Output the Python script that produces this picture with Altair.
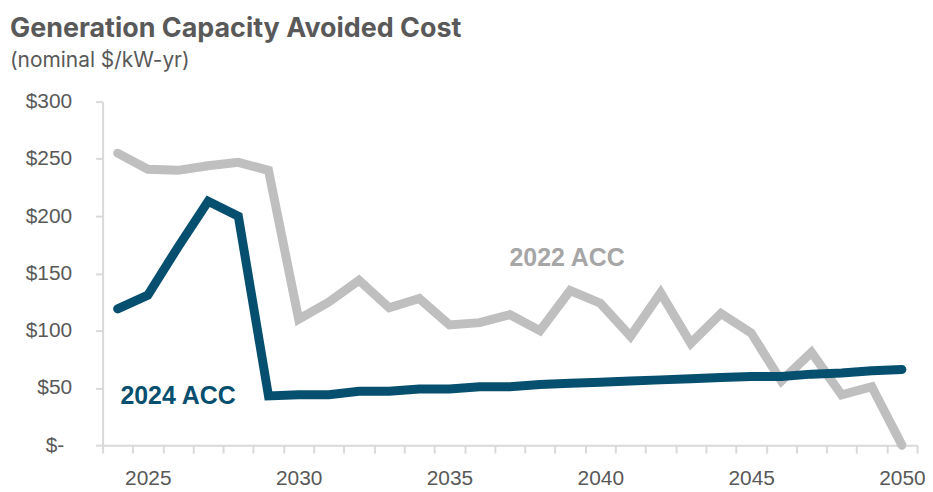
import altair as alt
import pandas as pd

years = list(range(2024, 2051))
acc_2022 = [255, 241, 240, 244, 247, 240, 110, 125, 144, 120, 128, 105, 107, 114,
            100, 135, 124, 95, 133, 89, 115, 98, 56, 81, 44, 51, 0]
acc_2024 = [119, 131, 173, 213, 200, 43, 44, 44, 47, 47, 49, 49, 51, 51, 53, 54,
            55, 56, 57, 58, 59, 60, 60, 62, 63, 65, 66]

label_text = ["2022 ACC", "2024 ACC"]
label_year = [2038.9, 2026.0]
label_value = [163, 43]

y_ticks = [0, 50, 100, 150, 200, 250, 300]
x_boundaries = [2023.5 + i for i in range(28)]

GRAY = "#bfbfbf"
BLUE = "#064f6e"
AXIS_TEXT = "#595959"
AXIS_LINE = "#d9d9d9"

df22 = pd.DataFrame({"year": years, "value": acc_2022})
df24 = pd.DataFrame({"year": years, "value": acc_2024})
dflab = pd.DataFrame({"label": label_text, "year": label_year, "value": label_value})

x_enc = alt.X(
    "year:Q",
    scale=alt.Scale(domain=[2023.5, 2050.5], nice=False, zero=False),
    axis=alt.Axis(
        title=None,
        values=x_boundaries,
        labelExpr="(datum.value - 0.5) % 5 == 0 ? format(datum.value - 0.5, 'd') : ''",
        labelOffset=-15.15,
        labelOverlap=False,
        labelFlush=False,
        labelBound=False,
        grid=False,
        domainColor=AXIS_LINE,
        domainWidth=2,
        tickColor=AXIS_LINE,
        tickWidth=2,
        tickSize=8,
        labelPadding=15,
        labelFont="Liberation Sans",
        labelFontSize=21,
        labelColor=AXIS_TEXT,
    ),
)
y_enc = alt.Y(
    "value:Q",
    scale=alt.Scale(domain=[0, 300], nice=False),
    axis=alt.Axis(
        title=None,
        values=y_ticks,
        labelExpr="datum.value == 0 ? '$-' : '$' + datum.value",
        labelOverlap=False,
        grid=False,
        domainColor=AXIS_LINE,
        domainWidth=2,
        tickColor=AXIS_LINE,
        tickWidth=2,
        tickSize=7,
        labelPadding={"condition": {"test": "datum.value == 0", "value": 32}, "value": 24},
        labelFont="Liberation Sans",
        labelFontSize=21,
        labelColor=AXIS_TEXT,
    ),
)

line22 = alt.Chart(df22).mark_line(color=GRAY, strokeWidth=9, strokeCap="round").encode(
    x=x_enc, y=y_enc
)
line24 = alt.Chart(df24).mark_line(color=BLUE, strokeWidth=9, strokeCap="round").encode(
    x=x_enc, y=y_enc
)
labels = alt.Chart(dflab).mark_text(
    font="Liberation Sans", fontSize=25, fontWeight="bold", align="center", baseline="middle"
).encode(
    x=x_enc,
    y=y_enc,
    text="label:N",
    color=alt.Color("label:N", scale=alt.Scale(domain=label_text, range=["#a6a6a6", BLUE]), legend=None),
)

chart = alt.layer(line22, line24, labels).properties(
    width=818,
    height=345,
    autosize=alt.AutoSizeParams(type="none"),
    padding={"left": 95, "top": 93, "right": 8, "bottom": 44},
    title=alt.TitleParams(
        text="Generation Capacity Avoided Cost",
        subtitle="(nominal $/kW-yr)",
        anchor="start",
        frame="group",
        dx=-93,
        dy=3,
        offset=22,
        font="Inter",
        fontSize=27,
        fontWeight="bold",
        color=AXIS_TEXT,
        subtitleFont="Inter",
        subtitleFontSize=21,
        subtitleColor=AXIS_TEXT,
        subtitlePadding=7,
    ),
).configure_view(stroke=None).configure_axis(labelOverlap=False)

chart.save("out.html", embed_options={"renderer": "svg", "actions": False})
